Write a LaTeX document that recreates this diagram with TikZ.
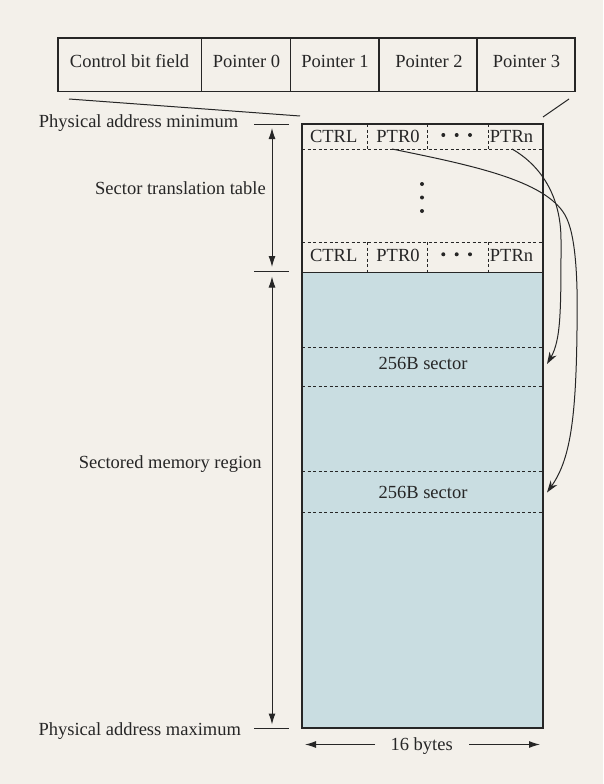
\documentclass[tikz,border=0pt]{standalone}
\usepackage{fontspec}
\setmainfont{Liberation Serif}
\usetikzlibrary{arrows.meta}
\definecolor{bgc}{HTML}{F3F0EA}
\definecolor{secblue}{HTML}{C9DDE1}
\definecolor{ink}{HTML}{262626}
\begin{document}
\begin{tikzpicture}[x=1pt,y=-1pt,
  font=\fontsize{18.5}{22}\selectfont,
  every node/.style={text=ink, inner sep=0pt, outer sep=0pt},
  thickline/.style={draw=ink, line width=1.9pt},
  thinline/.style={draw=ink, line width=1pt},
  dashline/.style={draw=ink, line width=0.9pt, dash pattern=on 3pt off 2.5pt},
  dimarrow/.style={draw=ink, line width=1pt, {Latex[length=11pt,width=7pt]}-{Latex[length=11pt,width=7pt]}},
  onearrow/.style={draw=ink, line width=1pt, -{Latex[length=11pt,width=7pt]}},
  ptrarrow/.style={draw=ink, line width=1pt, -{Stealth[length=12pt,width=8pt]}},
  lbl/.style={anchor=base},
  leftlbl/.style={anchor=base east},
  dotmark/.style={fill=ink}]

\fill[bgc] (0,0) rectangle (603,784);
\useasboundingbox (0,0) rectangle (603,784);

% ---------- top word layout ----------
\draw[thickline] (57.7,37.7) rectangle (575,91.5);
\foreach \x in {201.5,290.5,379,477} \draw[thickline] (\x,37.7) -- (\x,91.5);
\node[lbl] (cbf) at (129.6,67.7) {Control bit field};
\node[lbl] (p0) at (246.5,67.7) {Pointer 0};
\node[lbl] (p1) at (335,67.7) {Pointer 1};
\node[lbl] (p2) at (429,67.7) {Pointer 2};
\node[lbl] (p3) at (526.5,67.7) {Pointer 3};

% expansion lines
\coordinate (eL1) at (69,99);
\coordinate (eL2) at (300,116);
\coordinate (eR1) at (569,99);
\coordinate (eR2) at (543,117);
\draw[thinline] (eL1) -- (eL2);
\draw[thinline] (eR1) -- (eR2);

% ---------- memory column ----------
\fill[secblue] (302,272) rectangle (543,728);
\foreach \y in {149,242,347.3,386.7,471.7,512.7} \draw[dashline] (302,\y) -- (543,\y);
\foreach \x in {367,427,488} {
  \draw[dashline] (\x,124) -- (\x,149);
  \draw[dashline] (\x,242) -- (\x,272);
}
\draw[thinline] (302,272) -- (543,272);
\draw[thickline] (302,124) rectangle (543,728);

% first table row
\node[lbl] (ctrlA) at (333.7,142.7) {CTRL};
\node[lbl] (ptr0A) at (398,142.7) {PTR0};
\node[lbl] (ptrnA) at (511.5,142.7) {PTRn};
\foreach \x in {443.3,456.7,470} \fill[dotmark] (\x,135) circle (2);
% vertical ellipsis
\foreach \y in {184,197.5,211} \fill[dotmark] (422,\y) circle (2);
% last table row
\node[lbl] (ctrlB) at (333.7,261.7) {CTRL};
\node[lbl] (ptr0B) at (398,261.7) {PTR0};
\node[lbl] (ptrnB) at (511.5,261.7) {PTRn};
\foreach \x in {443.3,456.7,470} \fill[dotmark] (\x,254.3) circle (2);

% sectors
\node[lbl] (secA) at (423,369.3) {256B sector};
\node[lbl] (secB) at (423,498.3) {256B sector};

% ---------- left labels and dimensions ----------
\node[leftlbl] (amin) at (238.3,127.3) {Physical address minimum};
\node[leftlbl] (stt) at (265.7,194) {Sector translation table};
\node[leftlbl] (smr) at (261.7,468.3) {Sectored memory region};
\node[leftlbl] (amax) at (241,735.3) {Physical address maximum};

\coordinate (t1a) at (254,124);   \coordinate (t1b) at (289,124);
\coordinate (t2a) at (254,271.5); \coordinate (t2b) at (289,271.5);
\coordinate (t3a) at (254,728.3); \coordinate (t3b) at (289,728.3);
\draw[thinline] (t1a) -- (t1b);
\draw[thinline] (t2a) -- (t2b);
\draw[thinline] (t3a) -- (t3b);

\coordinate (d1a) at (272,128);
\coordinate (d1b) at (272,267);
\coordinate (d2a) at (272,276.5);
\coordinate (d2b) at (272,724.5);
\draw[dimarrow] (d1a) -- (d1b);
\draw[dimarrow] (d2a) -- (d2b);

% ---------- width ----------
\node[lbl] (bytes) at (421.7,750.5) {16 bytes};
\coordinate (wL) at (305,744.5);
\coordinate (wR) at (540,744.5);
\draw[onearrow] (375,744.5) -- (wL);
\draw[onearrow] (469,744.5) -- (wR);

% ---------- pointer curves ----------
\coordinate (c0) at (392,149);
\coordinate (cn) at (512,149);
\coordinate (s1) at (547,364);
\coordinate (s2) at (547,492.5);
\draw[ptrarrow] (c0) .. controls (470,165) and (545,180) .. (565,215)
  .. controls (576,234) and (578,280) .. (577,330)
  .. controls (576,420) and (570,460) .. (s2);
\draw[ptrarrow] (cn) .. controls (540,165) and (561,195) .. (561,240)
  .. controls (561,310) and (561,340) .. (s1);
\end{tikzpicture}
\end{document}
